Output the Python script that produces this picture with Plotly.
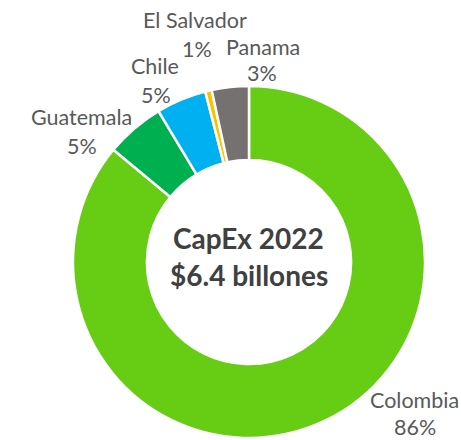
import plotly.graph_objects as go

countries = ["Colombia", "Guatemala", "Chile", "El Salvador", "Panama"]
shares = [86.0, 5.4, 4.6, 0.6, 3.4]
pct_labels = ["86%", "5%", "5%", "1%", "3%"]
colors = ["#66CC14", "#00B050", "#00B0F0", "#FFC000", "#767171"]
center_lines = ["CapEx 2022", "$6.4 billones"]

W, H = 461, 440
# label anchor pixel centers (name, pct)
name_pos = [(414, 400), (81, 117), (155, 66), (195, 20), (263, 47)]
pct_pos = [(415, 427), (82, 146), (156, 95), (197, 49), (262, 73)]

cx, cy, r = 249, 262, 176

fig = go.Figure(go.Pie(
    labels=countries,
    values=shares,
    sort=False,
    direction="clockwise",
    rotation=0,
    hole=0.58,
    marker=dict(colors=colors, line=dict(color="white", width=2.5)),
    textinfo="none",
    hoverinfo="label+percent",
    showlegend=False,
    domain=dict(x=[(cx - r) / W, (cx + r) / W], y=[(H - cy - r) / H, (H - cy + r) / H]),
))

ann = []
lab_font = dict(family="Lato", size=21.5, color="#595959")
for name, pct, (nx, ny), (px, py) in zip(countries, pct_labels, name_pos, pct_pos):
    ann.append(dict(text=name, x=nx / W, y=1 - ny / H, xref="paper", yref="paper",
                    showarrow=False, font=lab_font, xanchor="center", yanchor="middle", borderpad=0))
    ann.append(dict(text=pct, x=px / W, y=1 - py / H, xref="paper", yref="paper",
                    showarrow=False, font=lab_font, xanchor="center", yanchor="middle", borderpad=0))

ctr_font = dict(family="Lato", size=28, color="#404040")
for line, yy in zip(center_lines, [238, 275]):
    ann.append(dict(text=f"<b>{line}</b>", x=cx / W, y=1 - yy / H, xref="paper", yref="paper",
                    showarrow=False, font=ctr_font, xanchor="center", yanchor="middle"))

fig.update_layout(
    width=W, height=H,
    margin=dict(l=0, r=0, t=0, b=0),
    paper_bgcolor="white", plot_bgcolor="white",
    annotations=ann,
)

fig.write_html("out.html", config={"displayModeBar": False},
               post_script="document.body.style.margin='0';document.body.style.overflow='hidden';")
